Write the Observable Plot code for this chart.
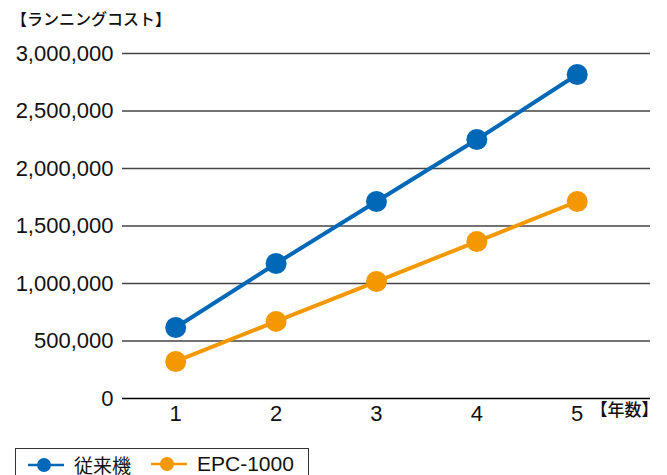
<!DOCTYPE html>
<html><head><meta charset="utf-8">
<script src="https://cdn.jsdelivr.net/npm/d3@7"></script>
<script src="https://cdn.jsdelivr.net/npm/@observablehq/plot@0.6"></script>
<style>
body{margin:0;background:#fff;font-family:"Liberation Sans","Noto Sans CJK JP",sans-serif;}
#wrap{width:667px;height:475px;overflow:hidden;position:relative;}
#title{height:35px;font-size:16px;padding-left:11px;line-height:36px;color:#111;font-family:"Noto Sans CJK JP",sans-serif;font-weight:500;}
#legend{position:absolute;left:15px;top:448px;border:1.2px solid #333;height:34px;width:292px;font-size:21px;color:#111;}
.item{position:absolute;top:2px;display:flex;align-items:center;}
</style></head>
<body><div id="wrap"><div id="title">【ランニングコスト】</div><div id="chart"></div><div id="legend"></div></div>
<script>
const years = [1, 2, 3, 4, 5];
const conventional = [617000, 1174000, 1713000, 2252000, 2817000];
const epc1000 = [322000, 670000, 1017000, 1365000, 1713000];
const seriesNames = ["従来機", "EPC-1000"];
const seriesColors = ["#0068b7", "#f39800"];
const yTicks = [0, 500000, 1000000, 1500000, 2000000, 2500000, 3000000];

const data = [];
years.forEach((y, i) => {
  data.push({year: y, value: conventional[i], series: seriesNames[0]});
  data.push({year: y, value: epc1000[i], series: seriesNames[1]});
});

const plot = Plot.plot({
  width: 667, height: 405,
  marginTop: 18, marginBottom: 42, marginLeft: 122, marginRight: 17,
  style: {fontFamily: "'Liberation Sans','Noto Sans CJK JP',sans-serif", fontSize: "22px", color: "#111", background: "#fff"},
  x: {domain: [0.47, 5.73], ticks: years, tickFormat: d => d},
  y: {domain: [0, 3000000]},
  color: {domain: seriesNames, range: seriesColors},
  marks: [
    Plot.ruleY(yTicks.filter(d => d > 0), {stroke: "#444", strokeWidth: 1.5}),
    Plot.ruleY([0], {stroke: "#000", strokeWidth: 1.5}),
    Plot.axisY(yTicks, {tickSize: 0, tickPadding: 9, tickFormat: d3.format(","), fontSize: 22, label: null}),
    Plot.axisX(years, {tickSize: 0, tickPadding: 7, fontSize: 22, label: null, tickFormat: d => d}),
    Plot.line(data, {x: "year", y: "value", z: "series", stroke: "series", strokeWidth: 4}),
    Plot.dot(data, {x: "year", y: "value", fill: "series", r: 10.5}),
    Plot.text(["【年数】"], {frameAnchor: "bottom-right", dx: 8, dy: 17, textAnchor: "end", fontSize: 17, fontWeight: 500, fill: "#111", fontFamily: "Noto Sans CJK JP"})
  ]
});
document.getElementById("chart").appendChild(plot);

const legend = document.getElementById("legend");
const lefts = [10, 133];
seriesNames.forEach((name, i) => {
  const item = document.createElement("div");
  item.className = "item";
  item.style.left = lefts[i] + "px";
  item.innerHTML = `<svg width="40" height="26"><line x1="2" x2="38" y1="13" y2="13" stroke="${seriesColors[i]}" stroke-width="2.5"/><circle cx="18" cy="13" r="7" fill="${seriesColors[i]}"/></svg><span style="margin-left:8px;${i===0?'font-family:Noto Sans CJK JP;font-size:19px':''}">${name}</span>`;
  legend.appendChild(item);
});
</script></body></html>
